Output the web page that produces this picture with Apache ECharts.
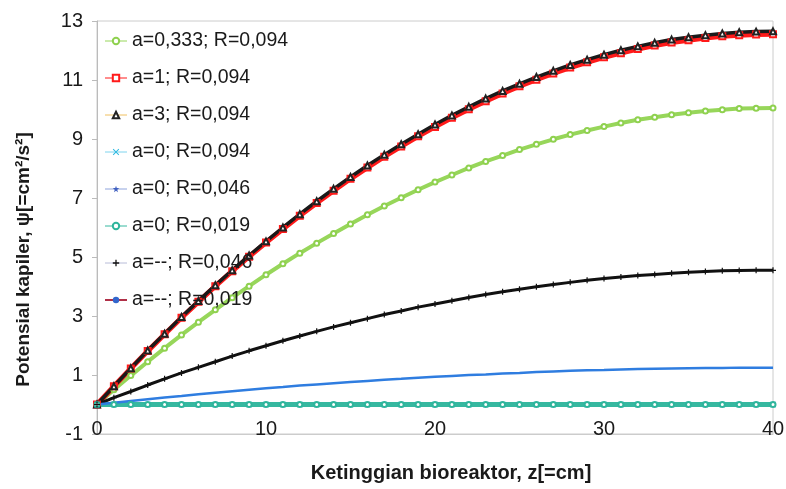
<!DOCTYPE html>
<html>
<head>
<meta charset="utf-8">
<title>Potensial kapiler</title>
<script src="https://cdn.jsdelivr.net/npm/echarts@6/dist/echarts.min.js"></script>
<style>
  html, body { margin: 0; padding: 0; background: #fff; }
  #chart { width: 786px; height: 489px; }
</style>
</head>
<body>
<div id="chart"></div>
<script>
// ketinggian bioreaktor z [cm]
const zValues = [0, 1, 2, 3, 4, 5, 6, 7, 8, 9, 10, 11, 12, 13, 14, 15, 16, 17, 18, 19, 20,
  21, 22, 23, 24, 25, 26, 27, 28, 29, 30, 31, 32, 33, 34, 35, 36, 37, 38, 39, 40];

// potensial kapiler psi
const psiA0333 = [0, 0.50, 0.98, 1.45, 1.91, 2.36, 2.79, 3.21, 3.62, 4.01, 4.40, 4.77, 5.13, 5.47, 5.80, 6.12,
  6.43, 6.73, 7.01, 7.28, 7.54, 7.78, 8.02, 8.24, 8.44, 8.64, 8.82, 8.99, 9.15, 9.29, 9.42,
  9.54, 9.65, 9.74, 9.82, 9.89, 9.95, 9.99, 10.03, 10.04, 10.05];
const psiA1 = [0, 0.62, 1.22, 1.81, 2.38, 2.94, 3.48, 4.01, 4.52, 5.01, 5.49, 5.95, 6.40, 6.83, 7.25, 7.65,
  8.03, 8.40, 8.75, 9.09, 9.41, 9.72, 10.01, 10.28, 10.54, 10.79, 11.01, 11.22, 11.42, 11.60, 11.77,
  11.91, 12.05, 12.17, 12.27, 12.35, 12.42, 12.48, 12.52, 12.54, 12.55];
const psiA3 = [0, 0.62, 1.23, 1.83, 2.40, 2.97, 3.51, 4.04, 4.55, 5.05, 5.53, 6.00, 6.45, 6.89, 7.31, 7.71,
  8.10, 8.47, 8.82, 9.16, 9.49, 9.80, 10.09, 10.37, 10.63, 10.87, 11.10, 11.31, 11.51, 11.69, 11.86,
  12.01, 12.14, 12.26, 12.37, 12.45, 12.52, 12.58, 12.62, 12.64, 12.65];
const psiA0 = [0, 0, 0, 0, 0, 0, 0, 0, 0, 0, 0, 0, 0, 0, 0, 0, 0, 0, 0, 0, 0,
  0, 0, 0, 0, 0, 0, 0, 0, 0, 0, 0, 0, 0, 0, 0, 0, 0, 0, 0, 0];
const psiR046 = [0, 0.23, 0.44, 0.66, 0.87, 1.07, 1.26, 1.45, 1.64, 1.82, 1.99, 2.16, 2.32, 2.48, 2.63, 2.77,
  2.91, 3.05, 3.17, 3.30, 3.41, 3.52, 3.63, 3.73, 3.82, 3.91, 3.99, 4.07, 4.14, 4.21, 4.27,
  4.32, 4.37, 4.41, 4.45, 4.48, 4.51, 4.53, 4.54, 4.55, 4.55];
const psiR019 = [0, 0.06, 0.12, 0.18, 0.24, 0.29, 0.35, 0.40, 0.45, 0.50, 0.55, 0.59, 0.64, 0.68, 0.72, 0.76,
  0.80, 0.84, 0.87, 0.91, 0.94, 0.97, 1.00, 1.02, 1.05, 1.07, 1.10, 1.12, 1.14, 1.16, 1.17,
  1.19, 1.20, 1.21, 1.22, 1.23, 1.24, 1.24, 1.25, 1.25, 1.25];

const seriesNames = [
  'a=0,333; R=0,094',
  'a=1; R=0,094',
  'a=3; R=0,094',
  'a=0; R=0,094',
  'a=0; R=0,046',
  'a=0; R=0,019',
  'a=--; R=0,046',
  'a=--; R=0,019'
];

// label sumbu y
const yTicks = [-1, 1, 3, 5, 7, 9, 11, 13];

const FONT = '"Liberation Sans", Arial, sans-serif';

const plusPath = 'path://M4,0H6V4H10V6H6V10H4V6H0V4H4Z';
const crossPath = 'path://M1,0L5,4L9,0L10,1L6,5L10,9L9,10L5,6L1,10L0,9L4,5L0,1Z';
const starPath = 'path://M5,0L6.2,3.5L10,3.6L7,6L8.1,10L5,7.6L1.9,10L3,6L0,3.6L3.8,3.5Z';

function pairs(values) {
  return zValues.map((z, i) => [z, values[i]]);
}

const chart = echarts.init(document.getElementById('chart'));

const option = {
  animation: false,
  backgroundColor: '#fff',
  textStyle: { fontFamily: FONT },
  grid: {
    left: 97,
    right: 13,
    top: 21,
    bottom: 55,
    outerBoundsMode: 'none',
    show: true,
    borderColor: '#cccccc',
    borderWidth: 1
  },
  legend: {
    orient: 'vertical',
    left: 99,
    top: 26,
    itemWidth: 22,
    itemHeight: 8,
    itemGap: 17,
    textStyle: { fontSize: 19.5, color: '#1a1a1a', fontFamily: FONT },
    data: [
      { name: seriesNames[0], lineStyle: { width: 1 } },
      { name: seriesNames[1], lineStyle: { width: 1 } },
      { name: seriesNames[2], lineStyle: { width: 1, color: '#f0c060' } },
      { name: seriesNames[3], lineStyle: { width: 1 } },
      { name: seriesNames[4], lineStyle: { width: 1 } },
      { name: seriesNames[5], lineStyle: { width: 1 } },
      { name: seriesNames[6], lineStyle: { width: 1, color: '#b8bcd8' } },
      { name: seriesNames[7], lineStyle: { width: 2, color: '#b03048' }, itemStyle: { color: '#3366cc' } }
    ]
  },
  xAxis: {
    type: 'value',
    min: 0,
    max: 40,
    interval: 10,
    name: 'Ketinggian bioreaktor, z[=cm]',
    nameLocation: 'middle',
    nameGap: 29,
    nameTextStyle: { fontSize: 20, fontWeight: 'bold', color: '#1a1a1a', padding: [0, 0, 0, 32] },
    axisLine: { onZero: false, lineStyle: { color: '#cccccc' } },
    axisTick: { show: false },
    axisLabel: { fontSize: 20, color: '#1a1a1a', margin: -15 },
    splitLine: { show: false }
  },
  yAxis: {
    type: 'value',
    min: -1,
    max: 13,
    name: 'Potensial kapiler, ψ[=cm²/s²]',
    nameLocation: 'middle',
    nameGap: 64,
    nameTextStyle: { fontSize: 19, fontWeight: 'bold', color: '#1a1a1a', padding: [0, 64, 0, 0] },
    axisLine: { show: true, lineStyle: { color: '#bbbbbb' } },
    axisTick: { show: true, length: 5, lineStyle: { color: '#bbbbbb' }, customValues: yTicks },
    axisLabel: { fontSize: 20, color: '#1a1a1a', margin: 14, customValues: yTicks },
    splitLine: { show: false }
  },
  series: [
    {
      name: seriesNames[0], type: 'line', data: pairs(psiA0333),
      symbol: 'emptyCircle', symbolSize: 5,
      itemStyle: { color: '#8fd14f', borderWidth: 1.2 },
      lineStyle: { color: '#97d65a', width: 4 }
    },
    {
      name: seriesNames[1], type: 'line', data: pairs(psiA1),
      symbol: 'emptyRect', symbolSize: 6,
      itemStyle: { color: '#ff1a1a', borderWidth: 1.2 },
      lineStyle: { color: '#ff1a1a', width: 5 }
    },
    {
      name: seriesNames[2], type: 'line', data: pairs(psiA3),
      symbol: 'emptyTriangle', symbolSize: 6,
      itemStyle: { color: '#222222', borderWidth: 1 },
      lineStyle: { color: '#1a1a1a', width: 3.5 }
    },
    {
      name: seriesNames[3], type: 'line', data: pairs(psiA0),
      symbol: crossPath, symbolSize: 6,
      itemStyle: { color: '#2ab8e0' },
      lineStyle: { color: '#7fd4ee', width: 2 }
    },
    {
      name: seriesNames[4], type: 'line', data: pairs(psiA0),
      symbol: starPath, symbolSize: 6,
      itemStyle: { color: '#4060c0' },
      lineStyle: { color: '#8fa4dc', width: 2 }
    },
    {
      name: seriesNames[5], type: 'line', data: pairs(psiA0),
      symbol: 'emptyCircle', symbolSize: 5,
      itemStyle: { color: '#2fb59c', borderWidth: 1.2 },
      lineStyle: { color: '#36b8a0', width: 5 }
    },
    {
      name: seriesNames[6], type: 'line', data: pairs(psiR046),
      symbol: plusPath, symbolSize: 6,
      itemStyle: { color: '#111111' },
      lineStyle: { color: '#111111', width: 3 }
    },
    {
      name: seriesNames[7], type: 'line', data: pairs(psiR019),
      symbol: 'none', symbolSize: 4,
      itemStyle: { color: '#2f7de0' },
      lineStyle: { color: '#2f7de0', width: 2.5 }
    }
  ]
};

chart.setOption(option);

window.addEventListener('resize', function () {
  chart.resize();
});
</script>
</body>
</html>
